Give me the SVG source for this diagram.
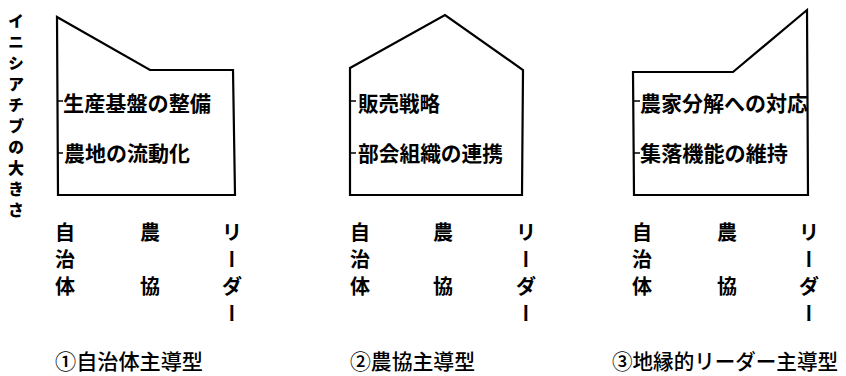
<svg xmlns="http://www.w3.org/2000/svg" width="846" height="376" viewBox="0 0 846 376">
<style>
.shape{fill:none;stroke:#000;stroke-width:2.2;stroke-linejoin:miter}
.tick{stroke:#000;stroke-width:1.5}
text{font-family:"Noto Sans CJK JP","Noto Sans CJK SC",sans-serif;fill:#000}
.box{font-size:21px;font-weight:700}
.lab{font-size:20px;font-weight:700;text-anchor:middle}
.vert{font-size:20px;font-weight:700;writing-mode:vertical-rl}
.title{font-size:21px;font-weight:500}
.axis{font-size:16px;font-weight:900;writing-mode:vertical-rl;letter-spacing:5px}
</style>
<rect width="846" height="376" fill="#fff"/>
<g id="axis-label">
<text class="axis" x="16" y="13">イニシアチブの大きさ</text>
</g>
<g id="panel1">
<path class="shape" d="M57,17 L150,70 L233,70 L235,195 L58,195 Z"/>
<line class="tick" x1="58" y1="101" x2="63" y2="101"/>
<line class="tick" x1="58" y1="153" x2="63" y2="153"/>
<text class="box" x="63" y="111" textLength="148" lengthAdjust="spacingAndGlyphs">生産基盤の整備</text>
<text class="box" x="64" y="161" textLength="126" lengthAdjust="spacingAndGlyphs">農地の流動化</text>
<text class="lab" x="65" y="240">自</text>
<text class="lab" x="65" y="267">治</text>
<text class="lab" x="65" y="294">体</text>
<text class="lab" x="150" y="240">農</text>
<text class="lab" x="150" y="294">協</text>
<text class="lab" x="232" y="240">リ</text>
<text class="vert" x="232" y="249">ー</text>
<text class="lab" x="232" y="294">ダ</text>
<text class="vert" x="232" y="303">ー</text>
<text class="title" x="55" y="369" textLength="148" lengthAdjust="spacingAndGlyphs">①自治体主導型</text>
</g>
<g id="panel2">
<path class="shape" d="M350,68 L445,15 L523,70 L522,195 L350,195 Z"/>
<line class="tick" x1="350" y1="101" x2="356" y2="101"/>
<line class="tick" x1="350" y1="153" x2="356" y2="153"/>
<text class="box" x="358" y="111" textLength="82" lengthAdjust="spacingAndGlyphs">販売戦略</text>
<text class="box" x="358" y="161" textLength="145" lengthAdjust="spacingAndGlyphs">部会組織の連携</text>
<text class="lab" x="360" y="240">自</text>
<text class="lab" x="360" y="267">治</text>
<text class="lab" x="360" y="294">体</text>
<text class="lab" x="443" y="240">農</text>
<text class="lab" x="443" y="294">協</text>
<text class="lab" x="526" y="240">リ</text>
<text class="vert" x="526" y="249">ー</text>
<text class="lab" x="526" y="294">ダ</text>
<text class="vert" x="526" y="303">ー</text>
<text class="title" x="350" y="369" textLength="125" lengthAdjust="spacingAndGlyphs">②農協主導型</text>
</g>
<g id="panel3">
<path class="shape" d="M633,72 L733,72 L807,10 L808,195 L634,195 Z"/>
<line class="tick" x1="634" y1="101" x2="640" y2="101"/>
<line class="tick" x1="634" y1="153" x2="640" y2="153"/>
<text class="box" x="640" y="111" textLength="168" lengthAdjust="spacingAndGlyphs">農家分解への対応</text>
<text class="box" x="640" y="161" textLength="148" lengthAdjust="spacingAndGlyphs">集落機能の維持</text>
<text class="lab" x="642" y="240">自</text>
<text class="lab" x="642" y="267">治</text>
<text class="lab" x="642" y="294">体</text>
<text class="lab" x="727" y="240">農</text>
<text class="lab" x="727" y="294">協</text>
<text class="lab" x="809" y="240">リ</text>
<text class="vert" x="809" y="249">ー</text>
<text class="lab" x="809" y="294">ダ</text>
<text class="vert" x="809" y="303">ー</text>
<text class="title" x="612" y="369" textLength="226" lengthAdjust="spacingAndGlyphs">③地縁的リーダー主導型</text>
</g>
</svg>
